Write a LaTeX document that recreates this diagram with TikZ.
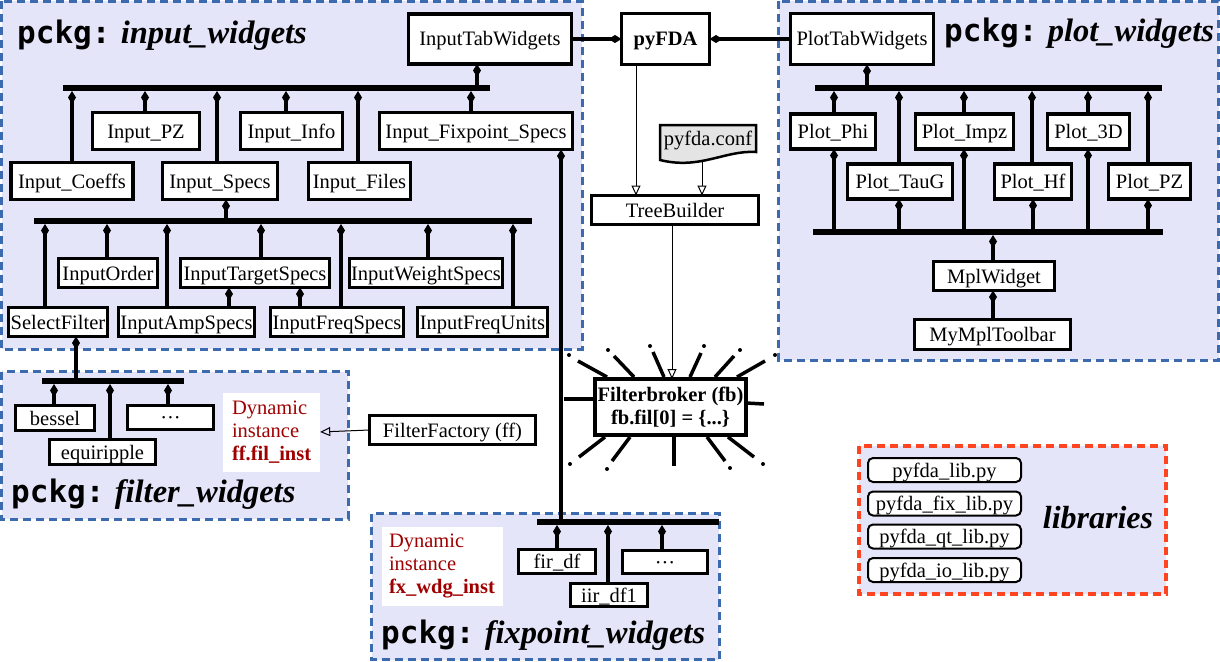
\documentclass[tikz,border=0pt]{standalone}
\usepackage{fontspec}
\setmainfont{Liberation Serif}
\newfontfamily\pkfont{DejaVu Sans Mono}
\usetikzlibrary{arrows.meta}
\definecolor{lav}{HTML}{E5E5FA}
\definecolor{pkblue}{HTML}{3C6AAE}
\definecolor{libred}{HTML}{FF4422}
\definecolor{dynred}{HTML}{A00000}
\definecolor{confgray}{HTML}{E4E4E4}
\tikzset{
  basefont/.style={font=\fontsize{20.5}{23.3}\selectfont},
  clsbase/.style={draw, line width=3.5pt, fill=white, inner sep=0pt, outer sep=0pt, basefont},
  cls/.style={clsbase, text height=14pt, text depth=0pt},
  busline/.style={line width=6pt},
  comp/.style={line width=3.5pt, {Diamond[length=13pt,width=8pt]}-},
  compb/.style={line width=3.5pt, -{Diamond[length=13pt,width=8pt]}},
  gen/.style={line width=1pt, -{Triangle[open,length=10pt,width=9pt]}},
  pkg/.style={draw=pkblue, line width=3pt, dash pattern=on 8pt off 5pt, fill=lav},
  ttl/.style={anchor=base west, inner sep=0pt, font=\fontsize{31}{36}\selectfont},
  dyn/.style={fill=white, inner sep=0pt, align=left, text=dynred, basefont},
  libbox/.style={draw, line width=2pt, rounded corners=5pt, fill=white, inner sep=0pt, minimum width=153pt, minimum height=24pt, basefont, text height=14pt, text depth=0pt},
  ray/.style={line width=3.5pt},
}
\newcommand\pkgtitle[1]{{\pkfont\bfseries pckg:} {\fontsize{32.5}{36}\selectfont\bfseries\itshape #1}}
\begin{document}
\begin{tikzpicture}[x=1pt,y=-1pt]
\useasboundingbox (0,0) rectangle (1220,661);
% package frames
\draw[pkg] (1.5,1.5) rectangle (582,349);
\draw[pkg] (778.5,1.5) rectangle (1218.5,360);
\draw[pkg] (1.5,371.5) rectangle (348,519);
\draw[pkg] (371.5,513.5) rectangle (719,659.5);
\draw[draw=libred, line width=4pt, dash pattern=on 8pt off 5pt, fill=lav] (859,446) rectangle (1166,594);
% titles
\node[ttl] (t1) at (17,44) {\pkgtitle{input\_widgets}};
\node[ttl] (t2) at (944,42) {\pkgtitle{plot\_widgets}};
\node[ttl] (t3) at (11,502) {\pkgtitle{filter\_widgets}};
\node[ttl] (t4) at (381,643) {\pkgtitle{fixpoint\_widgets}};
\node[font=\fontsize{32}{36}\selectfont\bfseries\itshape, inner sep=0pt] (liblabel) at (1098,518) {libraries};

% top row
\node[cls, minimum width=163pt, minimum height=50pt] (itw) at (490,39) {InputTabWidgets};
\node[cls, minimum width=88pt, minimum height=51pt, font=\fontsize{20.5}{23.3}\selectfont\bfseries] (pyfda) at (665.5,39) {pyFDA};
\node[cls, minimum width=143pt, minimum height=51pt] (ptw) at (862,39) {PlotTabWidgets};

% input widgets
\node[cls, minimum width=107pt, minimum height=37pt] (ipz) at (146,131) {Input\_PZ};
\node[cls, minimum width=102pt, minimum height=37pt] (iinfo) at (291.5,131) {Input\_Info};
\node[cls, minimum width=193pt, minimum height=37pt] (ifix) at (476,131) {Input\_Fixpoint\_Specs};
\node[cls, minimum width=122pt, minimum height=37pt] (icoeffs) at (72,181) {Input\_Coeffs};
\node[cls, minimum width=115pt, minimum height=37pt] (ispecs) at (220,181) {Input\_Specs};
\node[cls, minimum width=102pt, minimum height=37pt] (ifiles) at (359.5,181) {Input\_Files};
\node[cls, minimum width=99pt, minimum height=29pt] (iorder) at (108,273) {InputOrder};
\node[cls, minimum width=149pt, minimum height=29pt] (itarget) at (255,273) {InputTargetSpecs};
\node[cls, minimum width=153pt, minimum height=29pt] (iweight) at (426,273) {InputWeightSpecs};
\node[cls, minimum width=99pt, minimum height=29pt] (selfil) at (58,322) {SelectFilter};
\node[cls, minimum width=136pt, minimum height=29pt] (iamp) at (186.5,322) {InputAmpSpecs};
\node[cls, minimum width=133pt, minimum height=29pt] (ifreq) at (337,322) {InputFreqSpecs};
\node[cls, minimum width=130pt, minimum height=29pt] (iunits) at (482.5,322) {InputFreqUnits};

% filter widgets
\node[cls, minimum width=79pt, minimum height=25pt] (bessel) at (55,418) {bessel};
\node[cls, minimum width=86pt, minimum height=24pt] (fdots) at (170.5,417.5) {···};
\node[cls, minimum width=106pt, minimum height=25pt] (equi) at (102.5,452) {equiripple};
\node[dyn, minimum height=79pt, text width=79pt, inner xsep=9pt] (dyn1) at (271.5,432) {Dynamic\\instance\\\textbf{ff.fil\_inst}};
\node[cls, minimum width=166pt, minimum height=29pt, line width=3pt] (ff) at (452.5,430) {FilterFactory (ff)};

% plot widgets
\node[cls, minimum width=85pt, minimum height=35pt] (phi) at (833,131.5) {Plot\_Phi};
\node[cls, minimum width=98pt, minimum height=35pt] (impz) at (964.5,131.5) {Plot\_Impz};
\node[cls, minimum width=82pt, minimum height=35pt] (p3d) at (1088.5,131.5) {Plot\_3D};
\node[cls, minimum width=105pt, minimum height=35pt] (taug) at (900,181.5) {Plot\_TauG};
\node[cls, minimum width=77pt, minimum height=35pt] (phf) at (1033,181.5) {Plot\_Hf};
\node[cls, minimum width=82pt, minimum height=35pt] (ppz) at (1149.5,181.5) {Plot\_PZ};
\node[cls, minimum width=121pt, minimum height=29pt] (mpl) at (994,276) {MplWidget};
\node[cls, minimum width=156pt, minimum height=30pt] (mtb) at (992.5,334.5) {MyMplToolbar};

% centre
\path[draw, line width=2.5pt, fill=confgray] (660,125) -- (756,125) -- (756,152)
   .. controls (725,150) and (700,170) .. (660,160) -- cycle;
\node[inner sep=0pt, basefont] (conf) at (708,140) {pyfda.conf};
\node[cls, minimum width=167pt, minimum height=29pt, line width=3.3pt] (tree) at (675,210) {TreeBuilder};

% filterbroker rays
\draw[ray] (607,377) -- (578,361);  \fill (569,355) circle (2pt);
\draw[ray] (634,377) -- (614,356);  \fill (608,350) circle (2pt);
\draw[ray] (664,377) -- (653,352);  \fill (650,346) circle (2pt);
\draw[ray] (690,377) -- (701,353);  \fill (704,346) circle (2pt);
\draw[ray] (715,377) -- (734,356);  \fill (740,350) circle (2pt);
\draw[ray] (737,377) -- (765,361);  \fill (775,355) circle (2pt);
\draw[ray] (746,403) -- (764,404);
\draw[ray] (593,399) -- (564,399);
\draw[ray] (605,437) -- (579,457);  \fill (570,464) circle (2pt);
\draw[ray] (630,437) -- (612,461);  \fill (607,469) circle (2pt);
\draw[ray] (674,437) -- (674,466);
\draw[ray] (707,437) -- (725,461);  \fill (730,468) circle (2pt);
\draw[ray] (728,437) -- (754,457);  \fill (763,464) circle (2pt);
\node[clsbase, minimum width=151pt, minimum height=56pt, align=center, font=\fontsize{20.5}{23}\selectfont\bfseries] (fb) at (670.5,407) {Filterbroker (fb)\\fb.fil[0] = \{...\}};

% fixpoint widgets
\node[cls, minimum width=77pt, minimum height=24pt] (firdf) at (557,561.5) {fir\_df};
\node[cls, minimum width=85pt, minimum height=23pt] (fxdots) at (665,562) {···};
\node[cls, minimum width=77pt, minimum height=23pt] (iirdf) at (609,595) {iir\_df1};
\node[dyn, minimum height=79pt, text width=107pt, inner xsep=7pt] (dyn2) at (442.5,566) {Dynamic\\instance\\\textbf{fx\_wdg\_inst}};

% libraries
\node[libbox] (l1) at (944.5,470) {pyfda\_lib.py};
\node[libbox] (l2) at (944.5,503.5) {pyfda\_fix\_lib.py};
\node[libbox] (l3) at (944.5,536.5) {pyfda\_qt\_lib.py};
\node[libbox] (l4) at (944.5,570) {pyfda\_io\_lib.py};

% ---------- connectors ----------
\draw[compb] (itw.east) -- (pyfda.west);
\draw[comp] (pyfda.east) -- (ptw.west);

% input bus 1
\coordinate (b1l) at (63,88); \coordinate (b1r) at (490,88);
\draw[busline] (b1l) -- (b1r);
\draw[comp] (477,0 |- itw.south) -- (477,88);
\draw[comp] (72,91) -- (72,0 |- icoeffs.north);
\draw[comp] (145,91) -- (145,0 |- ipz.north);
\draw[comp] (217,91) -- (217,0 |- ispecs.north);
\draw[comp] (286,91) -- (286,0 |- iinfo.north);
\draw[comp] (358,91) -- (358,0 |- ifiles.north);
\draw[comp] (471,91) -- (471,0 |- ifix.north);

% input bus 2
\coordinate (b2l) at (34,221); \coordinate (b2r) at (532,221);
\draw[busline] (b2l) -- (b2r);
\draw[comp] (226,0 |- ispecs.south) -- (226,221);
\draw[comp] (45,224) -- (45,0 |- selfil.north);
\draw[comp] (107,224) -- (107,0 |- iorder.north);
\draw[comp] (167,224) -- (167,0 |- iamp.north);
\draw[comp] (261,224) -- (261,0 |- itarget.north);
\draw[comp] (341,224) -- (341,0 |- ifreq.north);
\draw[comp] (428,224) -- (428,0 |- iweight.north);
\draw[comp] (513,224) -- (513,0 |- iunits.north);
\draw[comp] (229,0 |- itarget.south) -- (229,0 |- iamp.north);
\draw[comp] (300,0 |- itarget.south) -- (300,0 |- ifreq.north);

% filter bus
\coordinate (b3l) at (42,381); \coordinate (b3r) at (184,381);
\draw[busline] (b3l) -- (b3r);
\draw[comp] (76,0 |- selfil.south) -- (76,381);
\draw[comp] (54,384) -- (54,0 |- bessel.north);
\draw[comp] (110,384) -- (110,0 |- equi.north);
\draw[comp] (168,384) -- (168,0 |- fdots.north);
\draw[gen] (ff.west) -- (dyn1.east);

% plot buses
\coordinate (b4l) at (815,88); \coordinate (b4r) at (1162,88);
\draw[busline] (b4l) -- (b4r);
\draw[comp] (867,0 |- ptw.south) -- (867,88);
\draw[comp] (834,91) -- (834,0 |- phi.north);
\draw[comp] (899,91) -- (899,0 |- taug.north);
\draw[comp] (964,91) -- (964,0 |- impz.north);
\draw[comp] (1032,91) -- (1032,0 |- phf.north);
\draw[comp] (1088,91) -- (1088,0 |- p3d.north);
\draw[comp] (1148,91) -- (1148,0 |- ppz.north);
\coordinate (b5l) at (813,232); \coordinate (b5r) at (1163,232);
\draw[busline] (b5l) -- (b5r);
\draw[comp] (834,0 |- phi.south) -- (834,232);
\draw[comp] (899,0 |- taug.south) -- (899,232);
\draw[comp] (964,0 |- impz.south) -- (964,232);
\draw[comp] (1033,0 |- phf.south) -- (1033,232);
\draw[comp] (1088,0 |- p3d.south) -- (1088,232);
\draw[comp] (1148,0 |- ppz.south) -- (1148,232);
\draw[comp] (993,235) -- (993,0 |- mpl.north);
\draw[comp] (993,0 |- mpl.south) -- (993,0 |- mtb.north);

% centre arrows
\draw[gen] (636,0 |- pyfda.south) -- (636,0 |- tree.north);
\draw[gen] (702,161) -- (702,0 |- tree.north);
\draw[gen] (672,0 |- tree.south) -- (672,0 |- fb.north);

% fixpoint
\coordinate (b6l) at (537,522); \coordinate (b6r) at (719,522);
\draw[comp] (561,0 |- ifix.south) -- (561,522);
\draw[busline] (b6l) -- (b6r);
\draw[comp] (557,525) -- (557,0 |- firdf.north);
\draw[comp] (608,525) -- (608,0 |- iirdf.north);
\draw[comp] (662,525) -- (662,0 |- fxdots.north);
\end{tikzpicture}
\end{document}
